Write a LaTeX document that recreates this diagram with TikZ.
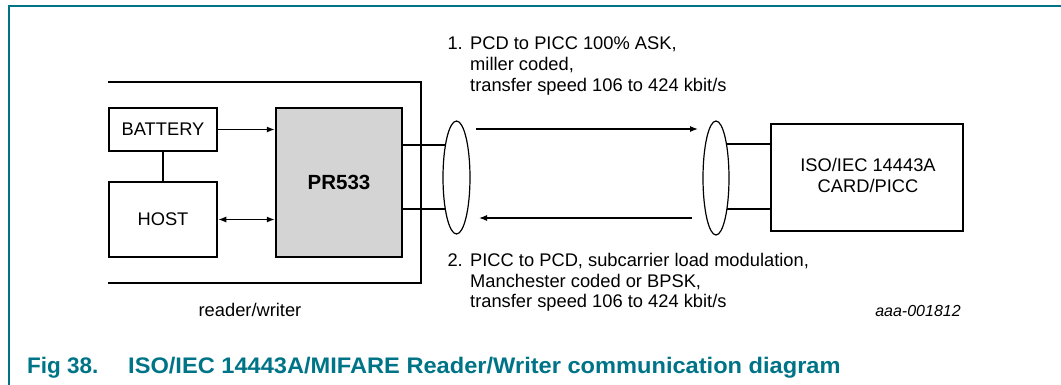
\documentclass[tikz,border=0pt]{standalone}
\usepackage{fontspec}
\setmainfont{Liberation Sans}
\usetikzlibrary{arrows.meta,shapes.geometric}
\definecolor{nxpteal}{RGB}{0,116,135}
\definecolor{chipgray}{RGB}{212,212,212}
\begin{document}
\begin{tikzpicture}[x=1pt,y=-1pt,
  blk/.style={draw,line width=2.5pt,inner sep=0pt},
  conn/.style={line width=1.2pt},
  arr/.style={conn,-{Latex[length=8pt,width=6pt]}},
  darr/.style={conn,{Latex[length=8pt,width=6pt]}-{Latex[length=8pt,width=6pt]}},
  lens/.style={draw,ellipse,line width=1.2pt,inner sep=0pt},
  txt/.style={font=\fontsize{18.3}{22}\selectfont,inner sep=0pt},
  figcap/.style={font=\fontsize{22.5}{26}\selectfont\bfseries,text=nxpteal,inner sep=0pt,anchor=base west}
]
\useasboundingbox (0,0) rectangle (1061,385);
% figure frame
\draw[nxpteal,line width=1.5pt] (9,385) -- (9,6) -- (1061,6);
% reader/writer enclosure
\draw[line width=2.5pt] (108,82) -- (421,82) -- (421,283) -- (108,283);
% blocks
\node[blk,txt,minimum width=108pt,minimum height=43pt] (bat) at (163,129.5) {BATTERY};
\node[blk,txt,minimum width=108pt,minimum height=75pt] (host) at (163,219.5) {HOST};
\node[blk,fill=chipgray,minimum width=126pt,minimum height=149pt,
      font=\fontsize{20.5}{24}\selectfont\bfseries] (pr) at (339,182.5) {PR533};
\node[blk,minimum width=192pt,minimum height=107pt,txt] (card) at (867,177.5) {};
\node[txt,anchor=base] (card1) at (868,172) {ISO/IEC 14443A};
\node[txt,anchor=base] (card2) at (868,193) {CARD/PICC};
% internal connectors
\draw[conn] (bat.south) -- (host.north);
\draw[arr] (bat.east) -- (pr.west |- bat.east);
\draw[darr] (host.east) -- (pr.west |- host.east);
% antennas
\node[lens,minimum width=27pt,minimum height=113pt] (e1) at (456.5,177.5) {};
\node[lens,minimum width=26pt,minimum height=114pt] (e2) at (716,178) {};
\coordinate (e1a) at (445.5,145);
\coordinate (e1b) at (445.3,209);
\coordinate (e2a) at (726.4,144);
\coordinate (e2b) at (726.9,209);
\draw[conn] (pr.east |- e1a) -- (e1a);
\draw[conn] (pr.east |- e1b) -- (e1b);
\draw[conn] (e2a) -- (card.west |- e2a);
\draw[conn] (e2b) -- (card.west |- e2b);
% air interface arrows
\coordinate (t1) at (476,129);
\coordinate (t2) at (698,129);
\coordinate (b1) at (692,218);
\coordinate (b2) at (479,218);
\draw[arr] (t1) -- (t2);
\draw[arr] (b1) -- (b2);
% labels
\node[txt,anchor=base east] (n1) at (463,50) {1.};
\node[txt,anchor=base west] (l1a) at (470,50) {PCD to PICC 100\% ASK,};
\node[txt,anchor=base west] (l1b) at (470,71) {miller coded,};
\node[txt,anchor=base west] (l1c) at (470,92) {transfer speed 106 to 424 kbit/s};
\node[txt,anchor=base east] (n2) at (463,266) {2.};
\node[txt,anchor=base west] (l2a) at (470,266) {PICC to PCD, subcarrier load modulation,};
\node[txt,anchor=base west] (l2b) at (470,287) {Manchester coded or BPSK,};
\node[txt,anchor=base west] (l2c) at (470,307.5) {transfer speed 106 to 424 kbit/s};
\node[txt,anchor=base] (rw) at (250,316) {reader/writer};
\node[inner sep=0pt,anchor=base,font=\fontsize{16}{19}\selectfont\itshape] (code) at (918,316) {aaa-001812};
% caption
\node[figcap] (figno) at (27,373) {Fig 38.};
\node[figcap] (figtitle) at (128,373) {\scalebox{1.05}[1]{ISO/IEC 14443A/MIFARE Reader/Writer communication diagram}};
\end{tikzpicture}
\end{document}
